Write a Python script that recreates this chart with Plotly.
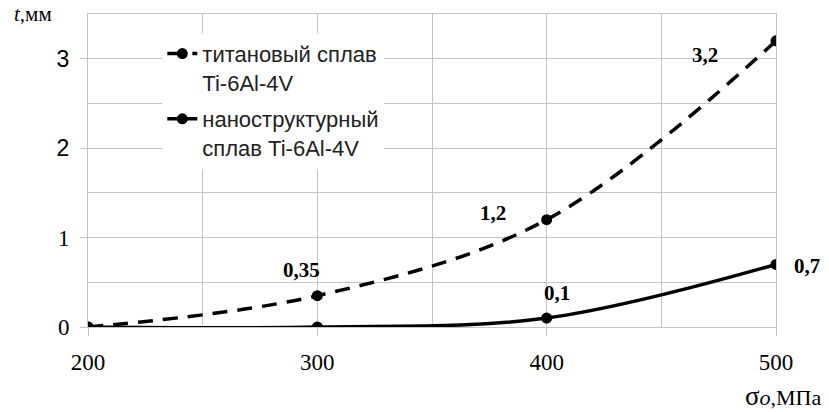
import plotly.graph_objects as go

stress = [200, 300, 400, 500]
ti_alloy = [0, 0.35, 1.2, 3.2]
nano_alloy = [0, 0, 0.1, 0.7]
ti_name = "титановый сплав<br>Ti-6Al-4V"
nano_name = "наноструктурный<br>сплав Ti-6Al-4V"
x_ticks = [200, 300, 400, 500]
y_ticks = [0, 1, 2, 3]
y_sans_ticks = [2, 3]

def fmt(v):
    return str(v).replace(".", ",")

fig = go.Figure()
fig.add_trace(go.Scatter(
    x=stress, y=ti_alloy, name=ti_name, mode="lines+markers", legendgroup="a",
    line=dict(color="black", width=3.5, dash="15px,10px", shape="spline", smoothing=1),
    marker=dict(size=11, color="black"),
))
fig.add_trace(go.Scatter(
    x=stress, y=nano_alloy, name=nano_name, mode="lines+markers", legendgroup="b",
    line=dict(color="black", width=3.5, shape="spline", smoothing=1),
    marker=dict(size=11, color="black"),
))

label_font = dict(family="Liberation Serif", size=21, color="black")
ti_offsets = {1: (-16, 26), 2: (-54, 7), 3: (-71, -14)}
nano_offsets = {2: (10, 25), 3: (31, -2)}
for i, (xs, ys) in ti_offsets.items():
    fig.add_annotation(x=stress[i], y=ti_alloy[i], text="<b>" + fmt(ti_alloy[i]) + "</b>",
                       showarrow=False, xshift=xs, yshift=ys, font=label_font)
for i, (xs, ys) in nano_offsets.items():
    fig.add_annotation(x=stress[i], y=nano_alloy[i], text="<b>" + fmt(nano_alloy[i]) + "</b>",
                       showarrow=False, xshift=xs, yshift=ys, font=label_font)

fig.add_annotation(xref="paper", yref="paper", x=-0.11, y=1.0, xanchor="left", yanchor="middle",
                   text="<i>t</i>,мм", showarrow=False,
                   font=dict(family="Liberation Serif", size=21, color="black"))
fig.add_annotation(xref="paper", yref="paper", x=1.07, y=-0.276, xanchor="right", yanchor="bottom",
                   text="<span style='font-size:27px'>σ</span><i>o</i>,МПа", showarrow=False,
                   font=dict(family="Liberation Serif", size=22, color="black"))

y_text = [("<span style='font-family:Liberation Sans'>%d</span>" % v) if v in y_sans_ticks else str(v)
          for v in y_ticks]

grid = "#c4c4c4"
fig.update_layout(
    width=829, height=412,
    margin=dict(l=88, r=53, t=14, b=85),
    paper_bgcolor="white", plot_bgcolor="white",
    showlegend=True,
    legend=dict(x=0.108, y=0.94, xanchor="left", yanchor="top", bgcolor="white",
                font=dict(family="Liberation Sans", size=22, color="#222"),
                valign="top", tracegroupgap=5),
    xaxis=dict(range=[200, 500], tickvals=x_ticks, ticks="outside", ticklen=8, tickcolor=grid,
               showgrid=True, gridcolor=grid, gridwidth=1, showline=True, linecolor=grid, mirror=True,
               minor=dict(dtick=50, tick0=200, showgrid=True, gridcolor=grid, gridwidth=1),
               tickfont=dict(family="Liberation Serif", size=23, color="black"),
               ticklabelstandoff=6, zeroline=False),
    yaxis=dict(range=[0, 3.5], tickvals=y_ticks, ticktext=y_text, ticks="outside", ticklen=7,
               tickcolor=grid,
               showgrid=True, gridcolor=grid, gridwidth=1, showline=True, linecolor=grid, mirror=True,
               minor=dict(dtick=0.5, tick0=0, showgrid=True, gridcolor=grid, gridwidth=1),
               tickfont=dict(family="Liberation Serif", size=23, color="black"),
               ticklabelstandoff=6, zeroline=False),
)
fig.write_html("out.html", post_script="document.body.style.margin='0';",
               config={"displayModeBar": False})
